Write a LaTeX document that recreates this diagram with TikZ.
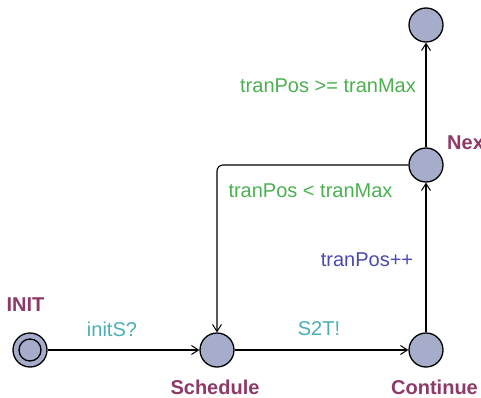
\documentclass[tikz,border=0pt]{standalone}
\usepackage{fontspec}
\setmainfont{Liberation Sans}
\usetikzlibrary{arrows.meta}
\definecolor{locfill}{HTML}{A5ADCB}
\definecolor{locname}{HTML}{8E3A68}
\definecolor{guardc}{HTML}{4CB050}
\definecolor{syncc}{HTML}{4AAFB5}
\definecolor{updc}{HTML}{4A4AB0}
\tikzset{
  loc/.style={circle, draw=black, fill=locfill, line width=1.3pt, minimum size=34pt, inner sep=0pt},
  lbl/.style={inner sep=0pt, font=\fontsize{20}{24}\selectfont},
  lname/.style={lbl, text=locname, font=\fontsize{20}{24}\selectfont\bfseries},
  guard/.style={lbl, text=guardc},
  sync/.style={lbl, text=syncc},
  upd/.style={lbl, text=updc},
  edge/.style={line width=1.1pt, -{Straight Barb[length=7pt,width=9pt,line width=1pt]}}
}
\begin{document}
\begin{tikzpicture}[x=1pt,y=-1pt]
\clip (0,0) rectangle (481,398);
\fill[white] (0,0) rectangle (481,398);
% locations
\node[loc] (init) at (30,350) {};
\draw[line width=1.3pt] (init.center) circle (11);
\node[loc] (sched) at (217,350) {};
\node[loc] (cont) at (426,350) {};
\node[loc] (next) at (426,165) {};
\node[loc] (done) at (426,25) {};
% names
\node[lname] (ninit) at (25.5,305) {INIT};
\node[lname] (nsched) at (215,387) {Schedule};
\node[lname, anchor=west] (ncont) at (391,387) {Continue};
\node[lname, anchor=west] (nnext) at (447,143) {Next};
% edges
\draw[edge] (init) -- (sched);
\draw[edge] (sched) -- (cont);
\draw[edge] (cont) -- (next);
\draw[edge] (next) -- (done);
\draw[edge, rounded corners=6pt] (next.west) -- (217,165) -- (sched.north);
% labels
\node[sync] (l1) at (112,329) {initS?};
\node[sync] (l2) at (319,329) {S2T!};
\node[guard] (l3) at (328,86) {tranPos >= tranMax};
\node[guard] (l4) at (310.5,191) {tranPos < tranMax};
\node[upd] (l5) at (367,260) {tranPos++};
\end{tikzpicture}
\end{document}
